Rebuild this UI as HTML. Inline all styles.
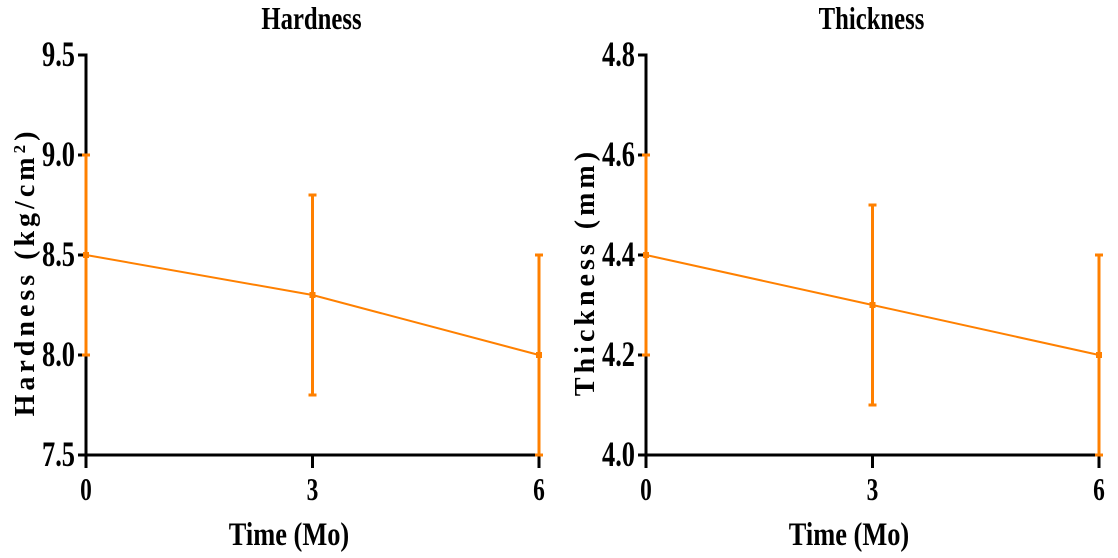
<!DOCTYPE html>
<html><head><meta charset="utf-8"><style>
html,body{margin:0;padding:0;background:#fff;}
svg{display:block;}
text{font-family:"Liberation Serif",serif;font-weight:bold;fill:#000;}
</style></head>
<body>
<svg id="chart" width="1118" height="558" viewBox="0 0 1118 558"></svg>
<script>
const categories = [0, 3, 6];
const hardnessMean = [8.5, 8.3, 8.0];
const hardnessErr = [0.5, 0.5, 0.5];
const hardnessTicks = ["7.5", "8.0", "8.5", "9.0", "9.5"];
const thicknessMean = [4.4, 4.3, 4.2];
const thicknessErr = [0.2, 0.2, 0.2];
const thicknessTicks = ["4.0", "4.2", "4.4", "4.6", "4.8"];

const NS = "http://www.w3.org/2000/svg";
const svg = document.getElementById("chart");
function mk(tag, attrs, parent, text) {
  const e = document.createElementNS(NS, tag);
  for (const k in attrs) e.setAttribute(k, attrs[k]);
  if (text !== undefined) e.textContent = text;
  (parent || svg).appendChild(e);
  return e;
}
const ORANGE = "#ff8000";

function panel(cfg) {
  const g = mk("g", {});
  
  
  const x0 = cfg.x0, x1 = cfg.x1, yTop = 55, yBot = 455;
  const ymin = parseFloat(cfg.ticks[0]), ymax = parseFloat(cfg.ticks[cfg.ticks.length - 1]);
  const xs = v => x0 + (v - categories[0]) / (categories[categories.length - 1] - categories[0]) * (x1 - x0);
  const ys = v => yBot - (v - ymin) / (ymax - ymin) * (yBot - yTop);

  const t = mk("text", {x: 0, y: 0, "text-anchor": "middle", "font-size": 26,
    transform: `translate(${(x0 + x1) / 2 - 1},${29}) scale(0.95,1.2)`}, g, cfg.title);
  
  

  const ya = mk("line", {x1: x0, y1: yTop - 1.5, x2: x0, y2: yBot + 13, stroke: "#000", "stroke-width": 3}, g);
  
  
  const xa = mk("line", {x1: x0 - 8, y1: yBot, x2: x1 + 1.5, y2: yBot, stroke: "#000", "stroke-width": 3}, g);
  
  

  cfg.ticks.forEach(lbl => {
    const y = ys(parseFloat(lbl));
    const tk = mk("line", {x1: x0 - 8, y1: y, x2: x0, y2: y, stroke: "#000", "stroke-width": 3}, g);
    
    
    const tl = mk("text", {x: 0, y: 0, "text-anchor": "end", "font-size": 30,
      transform: `translate(${x0 - 11},${y + 11}) scale(0.88,1.2)`}, g, lbl);
    
    
  });
  categories.forEach(c => {
    const x = xs(c);
    const tk = mk("line", {x1: x, y1: yBot, x2: x, y2: yBot + 13, stroke: "#000", "stroke-width": 3}, g);
    
    
    const tl = mk("text", {x: 0, y: 0, "text-anchor": "middle", "font-size": 26,
      transform: `translate(${x},${500}) scale(0.9,1.2)`}, g, String(c));
    
    
  });
  const xt = mk("text", {x: 0, y: 0, "text-anchor": "middle", "font-size": 30,
    transform: `translate(${x0 + 203},${545}) scale(0.88,1.1)`}, g, "Time (Mo)");
  
  
  const yt = mk("text", {x: 0, y: 0, "text-anchor": "middle", "font-size": 28, "letter-spacing": 4,
    transform: `translate(${x0 - 52},${272}) rotate(-90)`}, g);
  
  
  yt.textContent = cfg.ytitle;
  if (cfg.sup) {
    mk("tspan", {"baseline-shift": "super", "font-size": 17}, yt, cfg.sup);
    mk("tspan", {}, yt, ")");
  }

  const pts = categories.map((c, i) => xs(c) + "," + ys(cfg.mean[i])).join(" ");
  const pl = mk("polyline", {points: pts, fill: "none", stroke: ORANGE, "stroke-width": 2}, g);
  
  
  categories.forEach((c, i) => {
    const x = xs(c), m = cfg.mean[i], e = cfg.err[i];
    const yh = ys(m + e), yl = ys(m - e);
    const eb = mk("g", {}, g);
    
    
    mk("line", {x1: x, y1: yh, x2: x, y2: yl, stroke: ORANGE, "stroke-width": 3}, eb);
    mk("line", {x1: x - 4, y1: yh, x2: x + 4, y2: yh, stroke: ORANGE, "stroke-width": 3}, eb);
    mk("line", {x1: x - 4, y1: yl, x2: x + 4, y2: yl, stroke: ORANGE, "stroke-width": 3}, eb);
    const pt = mk("rect", {x: x - 3, y: ys(m) - 3, width: 6, height: 6, fill: ORANGE}, g);
    
    
  });
}

panel({name: "hardness-panel", title: "Hardness", x0: 86, x1: 539, ticks: hardnessTicks,
  mean: hardnessMean, err: hardnessErr, ytitle: "Hardness (kg/cm", sup: "2"});
panel({name: "thickness-panel", title: "Thickness", x0: 646, x1: 1099, ticks: thicknessTicks,
  mean: thicknessMean, err: thicknessErr, ytitle: "Thickness (mm)"});
</script>
</body></html>
